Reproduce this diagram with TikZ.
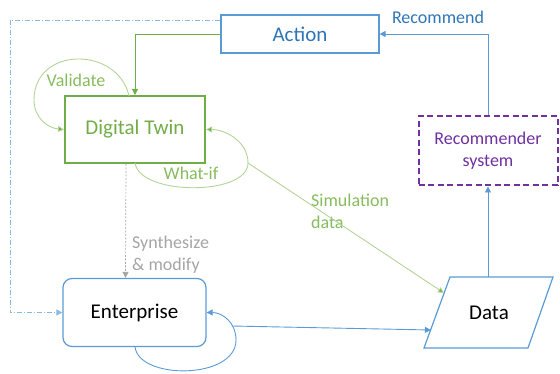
\documentclass[tikz,border=0pt]{standalone}
\usepackage{fontspec}
\setmainfont{Carlito}
\usetikzlibrary{arrows.meta,calc}
\definecolor{cgreen}{RGB}{112,173,71}
\definecolor{clgreen}{RGB}{178,212,152}
\definecolor{ctgreen}{RGB}{134,188,94}
\definecolor{cblue}{RGB}{91,155,213}
\definecolor{ctblue}{RGB}{46,117,182}
\definecolor{cpurple}{RGB}{112,48,160}
\definecolor{cgray}{RGB}{165,165,165}
\tikzset{
  tip/.style={-{Triangle[length=6pt,width=6pt]}},
  boxa/.style={draw=cblue,line width=1.2pt,minimum width=158pt,minimum height=38pt,inner sep=0pt,font=\fontsize{21}{24}\selectfont,text=ctblue},
  boxdt/.style={draw=cgreen,line width=2pt,minimum width=140pt,minimum height=67pt,inner sep=0pt,font=\fontsize{21}{24}\selectfont,text=cgreen},
  boxrec/.style={draw=cpurple,line width=2pt,dash pattern=on 6pt off 3.5pt,minimum width=139pt,minimum height=69pt,inner sep=0pt,align=center,font=\fontsize{18}{22}\selectfont,text=cpurple},
  boxent/.style={draw=cblue,line width=1.2pt,rounded corners=9pt,minimum width=143pt,minimum height=68pt,inner sep=0pt,font=\fontsize{21}{24}\selectfont,text=black},
  txt/.style={font=\fontsize{21}{24}\selectfont,text=black,inner sep=0pt},
  lab/.style={font=\fontsize{18}{22}\selectfont,inner sep=0pt,align=left},
  gline/.style={draw=cgreen,line width=0.8pt,tip},
  lgline/.style={draw=clgreen,line width=0.9pt,-{Triangle[length=6pt,width=6pt,fill=cgreen]}},
  bline/.style={draw=cblue,line width=0.9pt,tip},
  dline/.style={draw=cgray,line width=0.7pt,dash pattern=on 2pt off 1.5pt,tip},
  ddline/.style={draw=cblue!70,line width=0.7pt,dash pattern=on 5pt off 2pt on 1pt off 2pt,tip},
}
\begin{document}
\begin{tikzpicture}[x=1pt,y=-1pt]
\useasboundingbox (0,0) rectangle (560,374);
% nodes
\node[boxa] (act) at (300,34) {Action};
\node[boxdt] (dt) at (135,129.5) {Digital Twin};
\node[boxrec] (rec) at (488,151) {Recommender\\system};
\node[boxent] (ent) at (134.5,312.5) {Enterprise};
\node[txt] (data) at (489,312.5) {Data};
\draw[cblue,line width=1.2pt] (424,348) -- (450,277) -- (553,277) -- (528,348) -- cycle;
\coordinate (datatop) at (488,277);
\coordinate (dataleftA) at (444,293);
\coordinate (dataleftB) at (431,330);
\coordinate (wiR) at (248,163);
\coordinate (enR) at (232,326);
\coordinate (lc) at (10,20);
% labels
\node[lab,text=ctblue] (lrec) at (438,17) {Recommend};
\node[lab,text=ctgreen] (lval) at (76,80) {Validate};
\node[lab,text=ctgreen] (lwi) at (191,173) {What-if};
\node[lab,text=ctgreen,anchor=north west] (lsim) at (311,194) {Simulation\\data};
\node[lab,text=cgray,anchor=north west] (lsyn) at (132,236) {Synthesize\\\& modify};
% connectors
\draw[gline] (act.west) -| (dt.north);
\draw[bline] (rec.north) |- (act.east);
\draw[bline] (datatop) -- (rec.south);
\draw[lgline] (129,96) .. controls (118,46) and (34,46) .. (34,100) .. controls (34,118) and (48,128) .. (dt.west);
\draw[lgline] (135,163) .. controls (140,196) and (248,196) .. (wiR) .. controls (248,142) and (226,129.5) .. (dt.east);
\draw[lgline] (wiR) -- (dataleftA);
\draw[dline] ([xshift=-9pt]dt.south) -- ([xshift=-9pt]ent.north);
\draw[ddline] ([yshift=14pt]act.west) -- (lc) |- (ent.west);
\draw[bline] (135,346.5) .. controls (138,380) and (236,380) .. (236,340) .. controls (236,322) and (222,312.5) .. (ent.east);
\draw[bline] (enR) -- (dataleftB);
\end{tikzpicture}
\end{document}
